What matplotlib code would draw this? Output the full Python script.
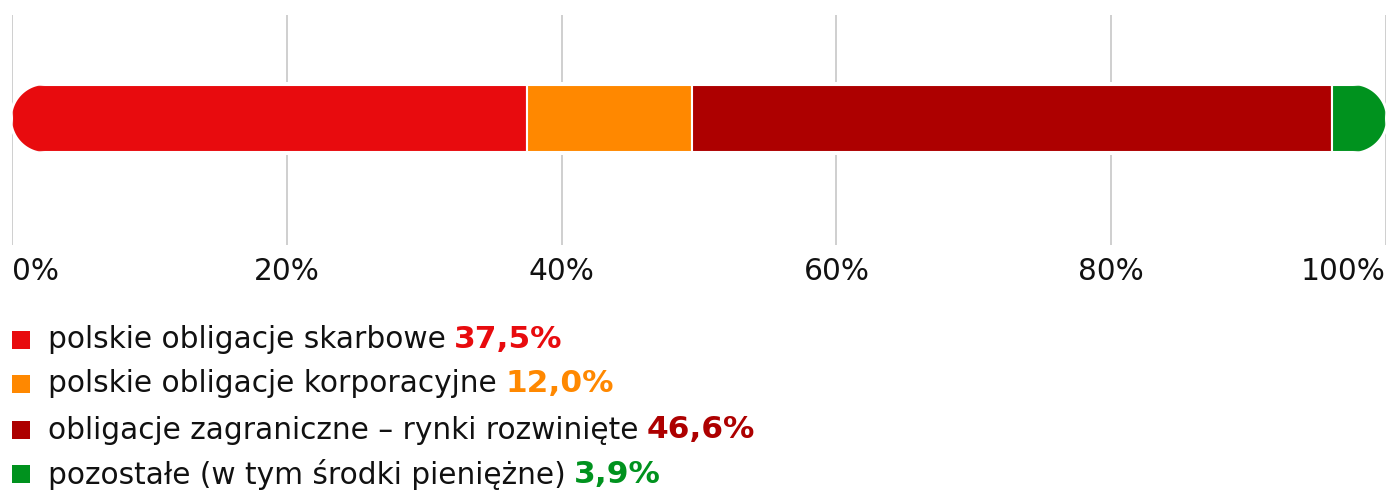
import numpy as np
import matplotlib.pyplot as plt
from matplotlib.patches import PathPatch, Rectangle
from matplotlib.path import Path

categories = ["polskie obligacje skarbowe",
              "polskie obligacje korporacyjne",
              "obligacje zagraniczne \u2013 rynki rozwinięte",
              "pozostałe (w tym środki pieniężne)"]
shares = [37.5, 12.0, 46.6, 3.9]
colors = ["#E80B0E", "#FF8800", "#AD0000", "#00921E"]
ticks = [0, 20, 40, 60, 80, 100]

plt.rcParams['font.family'] = ['DejaVu Sans']

W, H = 1390, 490
AX_W, AX_H = 1374, 230
fig = plt.figure(figsize=(W / 100, H / 100), dpi=100)
ax = fig.add_axes([12 / W, 1 - 245 / H, AX_W / W, AX_H / H])
ax.set_xlim(0, 100)
ax.set_ylim(0, 1)

bar_y = 0.55
bar_h = 67 / AX_H


def stadium(grow_px=0.0):
    # pill shape in axes coords, circular ends on screen
    r_px = 67 / 2 + grow_px
    rx, ry = r_px / AX_W, r_px / AX_H
    x0 = -grow_px / AX_W
    x1 = 1 + grow_px / AX_W
    a = np.linspace(np.pi / 2, 3 * np.pi / 2, 80)
    left = np.column_stack([x0 + rx + rx * np.cos(a), bar_y + ry * np.sin(a)])
    b = np.linspace(-np.pi / 2, np.pi / 2, 80)
    right = np.column_stack([x1 - rx + rx * np.cos(b), bar_y + ry * np.sin(b)])
    verts = np.vstack([left, right, left[:1]])
    return Path(verts, closed=True)


for t in ticks:
    ax.axvline(t, color="#cccccc", lw=1.3, zorder=0)

halo = PathPatch(stadium(3), transform=ax.transAxes, fc="white", ec="none",
                 zorder=1, clip_on=False)
ax.add_patch(halo)

clip = PathPatch(stadium(0), transform=ax.transAxes, fc="none", ec="none")
ax.add_patch(clip)

left = np.concatenate([[0], np.cumsum(shares)[:-1]])
bars = ax.barh(bar_y, shares, left=left, height=bar_h, color=colors,
               edgecolor="white", linewidth=1.5, zorder=2)
for b in bars:
    b.set_clip_path(clip)

for s in ax.spines.values():
    s.set_visible(False)
ax.set_yticks([])
ax.set_xticks(ticks)
ax.set_xticklabels([f"{t}%" for t in ticks], fontsize=21.3)
ax.tick_params(axis="x", length=0, pad=9, labelcolor="#111111")
labs = ax.get_xticklabels()
labs[0].set_ha("left")
labs[-1].set_ha("right")

# legend
ys = [340, 384, 430, 474]
for cat, val, col, y in zip(categories, shares, colors, ys):
    fig.patches.append(Rectangle((12 / W, 1 - (y + 9) / H), 18 / W, 18 / H,
                                 transform=fig.transFigure, fc=col, ec="none"))
    t = fig.text(48 / W, 1 - y / H, cat, fontsize=21.3, va="center", color="#111111")
    ax.annotate(f"{val:.1f}%".replace(".", ","), xy=(1, 0.5), xycoords=t,
                xytext=(6, 0), textcoords="offset points", va="center",
                fontsize=22.5, fontweight="bold", color=col, annotation_clip=False)

fig.savefig("out.png", dpi=100)
